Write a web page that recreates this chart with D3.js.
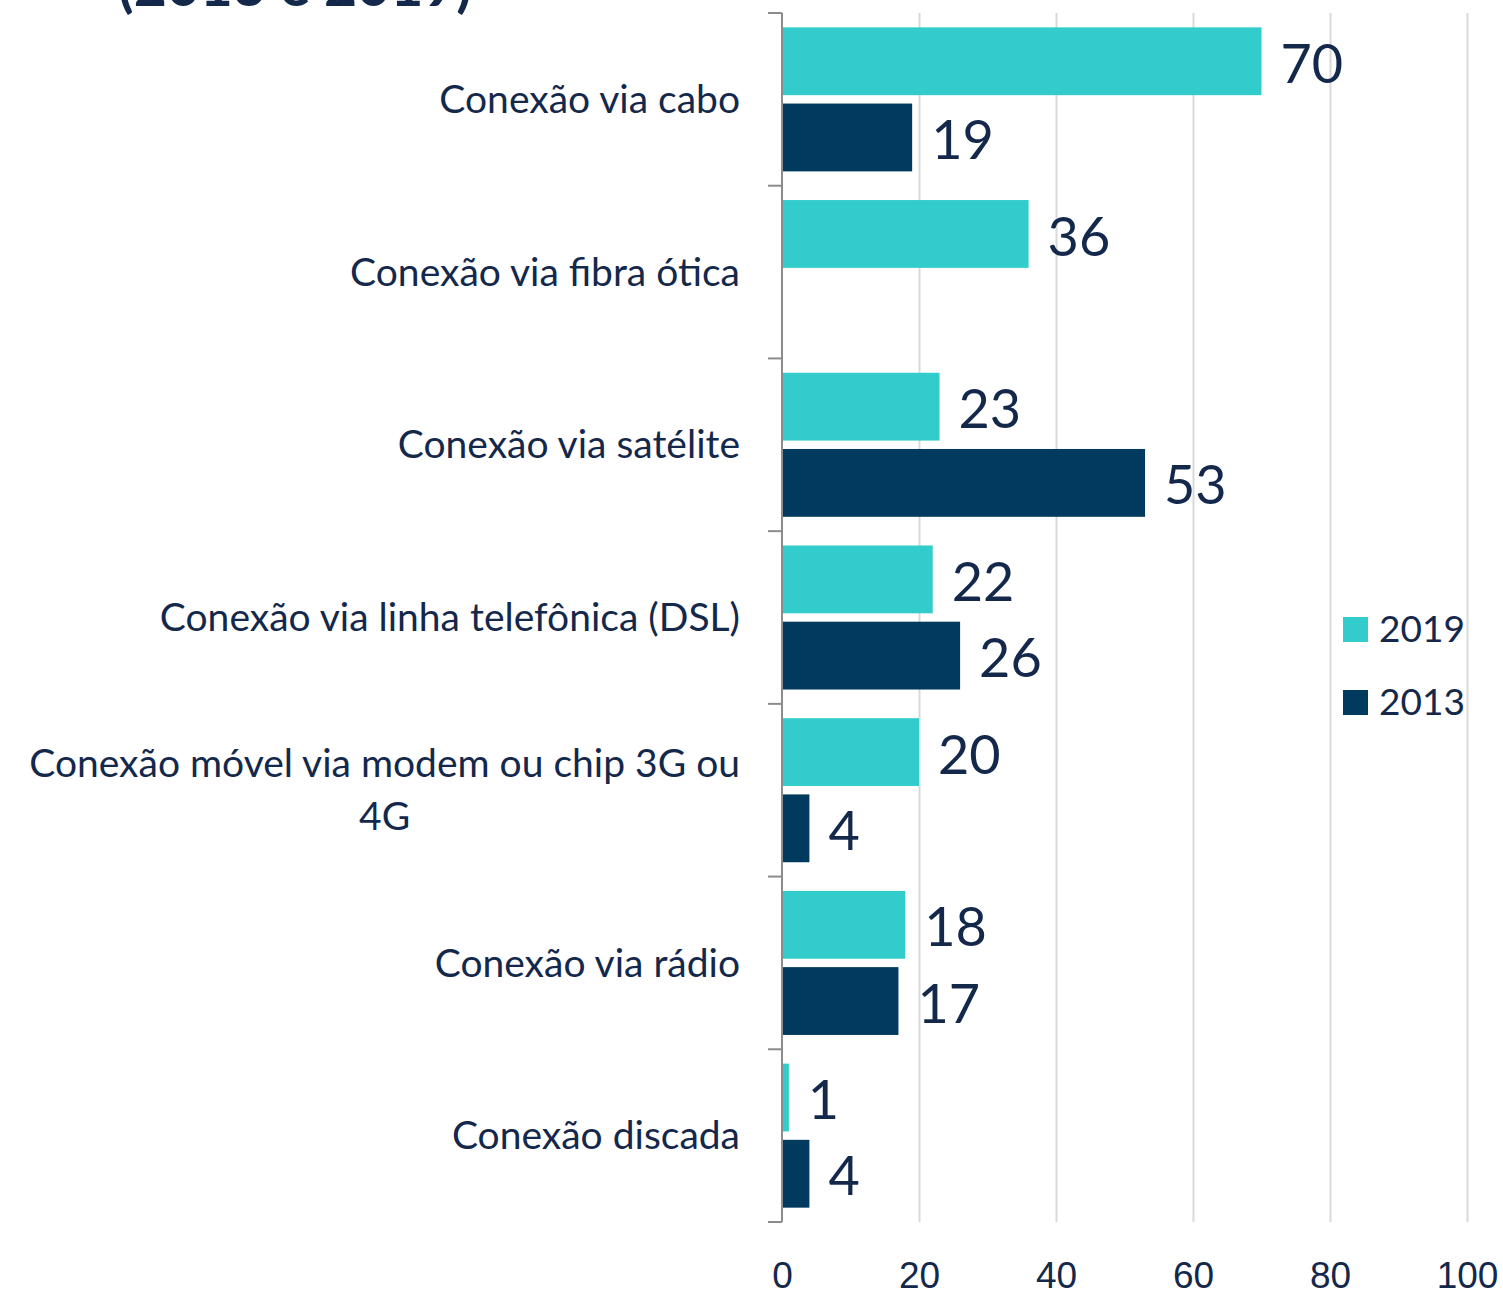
<!DOCTYPE html>
<html lang="pt">
<meta charset="UTF-8">
<style>
    body { margin: 0; background: #fff; }
    svg { display: block; font-family: Lato, "Open Sans", sans-serif; }
    .grid line { stroke: #d9d9d9; stroke-width: 2px; }
    .grid .domain { display: none; }
    .xaxis .domain { display: none; }
    .xaxis text { fill: #14284b; font-size: 37px; }
</style>
<body>
<svg id="chart" width="1503" height="1296"></svg>
<script src="https://d3js.org/d3.v7.min.js"></script>
<script>
const categories = [
    "Conexão via cabo",
    "Conexão via fibra ótica",
    "Conexão via satélite",
    "Conexão via linha telefônica (DSL)",
    "Conexão móvel via modem ou chip 3G ou 4G",
    "Conexão via rádio",
    "Conexão discada"
];
const series = ["2019", "2013"];
const values2019 = [70, 36, 23, 22, 20, 18, 1];
const values2013 = [19, null, 53, 26, 4, 17, 4];
const xTicks = [0, 20, 40, 60, 80, 100];

const colors = { "2019": "#33cccc", "2013": "#003a5e" };
const textColor = "#14284b";
const labelSize = '39px';

const svg = d3.select('#chart');
const plot = { left: 782, right: 1467, top: 13, bottom: 1222 };

const x = d3.scaleLinear().domain([0, 100]).range([plot.left, plot.right]);
const y0 = d3.scaleBand()
    .domain(categories)
    .range([plot.top, plot.bottom])
    .paddingInner(0.166)
    .paddingOuter(0.083);
const y1 = d3.scaleBand()
    .domain(series)
    .range([0, y0.bandwidth()])
    .paddingInner(0.11);

// title (only its last line shows at the top edge, as in the original)
svg.append('text')
    .attr('x', 118)
    .attr('y', 6)
    .attr('font-size', '57px')
    .attr('font-weight', 'bold')
    .attr('fill', textColor)
    .text('(2013 e 2019)');

// gridlines
svg.append('g')
    .attr('class', 'grid')
    .attr('transform', `translate(0, ${plot.bottom})`)
    .call(d3.axisBottom(x).tickValues(xTicks.slice(1)).tickSize(-(plot.bottom - plot.top)).tickFormat(''));

// x tick labels
svg.append('g')
    .attr('class', 'xaxis')
    .attr('transform', `translate(0, ${plot.bottom})`)
    .call(d3.axisBottom(x).tickValues(xTicks).tickSize(0).tickPadding(40));

const rows = categories.map((c, i) => ({ cat: c, vals: [
    { s: "2019", v: values2019[i] },
    { s: "2013", v: values2013[i] }
]}));

const groups = svg.append('g').selectAll('g').data(rows)
    .enter().append('g')
    .attr('transform', d => `translate(0, ${y0(d.cat)})`);

groups.selectAll('rect').data(d => d.vals.filter(e => e.v != null))
    .enter().append('rect')
    .attr('x', x(0))
    .attr('y', d => y1(d.s))
    .attr('width', d => x(d.v) - x(0))
    .attr('height', y1.bandwidth())
    .attr('fill', d => colors[d.s]);

groups.selectAll('text.val').data(d => d.vals.filter(e => e.v != null))
    .enter().append('text')
    .attr('class', 'val')
    .attr('x', d => x(d.v) + 19)
    .attr('y', d => y1(d.s) + y1.bandwidth() / 2)
    .attr('dy', '0.4em')
    .attr('font-size', '54px')
    .attr('fill', textColor)
    .text(d => d.v);

// y axis line + ticks between categories
svg.append('line')
    .attr('x1', plot.left).attr('x2', plot.left)
    .attr('y1', plot.top).attr('y2', plot.bottom)
    .attr('stroke', '#8c8c8c').attr('stroke-width', 2);
svg.append('g').selectAll('line')
    .data(d3.range(categories.length + 1))
    .enter().append('line')
    .attr('x1', plot.left - 14).attr('x2', plot.left)
    .attr('y1', i => plot.top + i * y0.step())
    .attr('y2', i => plot.top + i * y0.step())
    .attr('stroke', '#8c8c8c').attr('stroke-width', 2);

// category labels
const labelX = 740;
const maxW = 720;
categories.forEach(c => {
    const cy = y0(c) + y0.bandwidth() / 2;
    // wrap long labels like Excel does
    const words = c.split(' ');
    let lines = [];
    let line = [];
    const probe = svg.append('text').attr('font-size', labelSize);
    words.forEach(w => {
        probe.text(line.concat(w).join(' '));
        if (probe.node().getComputedTextLength() > maxW && line.length) {
            lines.push(line.join(' '));
            line = [w];
        } else {
            line.push(w);
        }
    });
    lines.push(line.join(' '));
    probe.text(lines[0]);
    const firstW = probe.node().getComputedTextLength();
    probe.remove();
    const lh = 53;
    lines.forEach((l, k) => {
        const ty = cy + (k - (lines.length - 1) / 2) * lh;
        svg.append('text')
            .attr('x', k === 0 ? labelX : labelX - firstW / 2)
            .attr('y', ty).attr('dy', '0.35em')
            .attr('font-size', labelSize)
            .attr('fill', textColor)
            .attr('text-anchor', k === 0 ? 'end' : 'middle')
            .text(l);
    });
});

// legend
const legend = svg.append('g').selectAll('g').data(series)
    .enter().append('g')
    .attr('transform', (d, i) => `translate(1343, ${617 + i * 73})`);
legend.append('rect')
    .attr('width', 25).attr('height', 25)
    .attr('fill', d => colors[d]);
legend.append('text')
    .attr('x', 36).attr('y', 12.5).attr('dy', '0.35em')
    .attr('font-size', '37px')
    .attr('fill', textColor)
    .text(d => d);
</script>
</body>
</html>
